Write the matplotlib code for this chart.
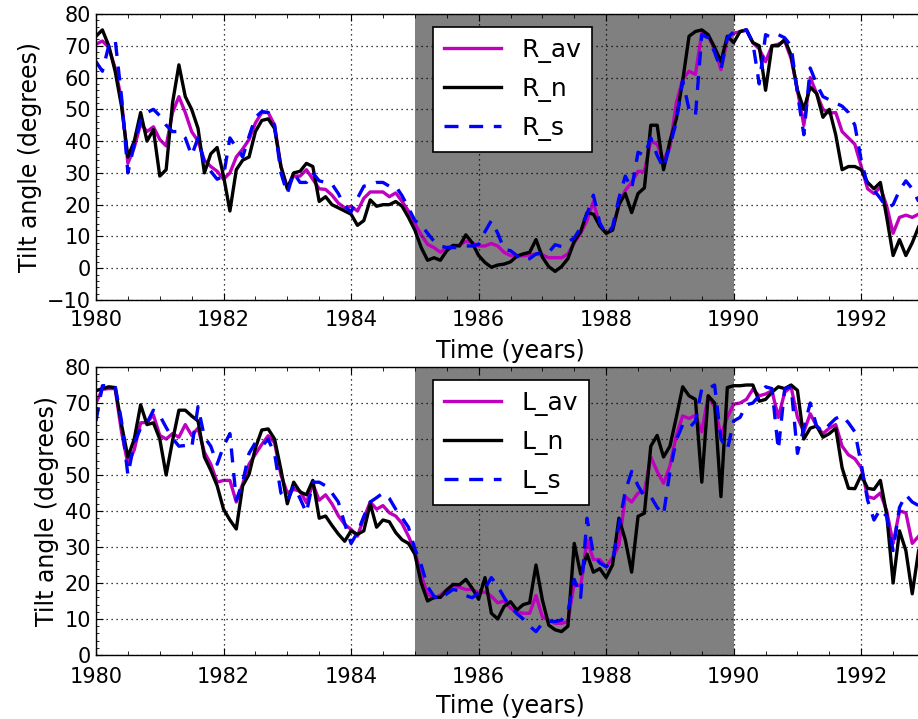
import numpy as np
import matplotlib
matplotlib.use("Agg")
import matplotlib.pyplot as plt
from matplotlib.ticker import MultipleLocator, FixedLocator, FormatStrFormatter

# Sampling grid: one value every 0.1 year from 1980.0
years = np.round(1980 + 0.1 * np.arange(130), 1)

# Radial-model tilt angles (degrees)
R_n = [73, 75, 70, 62, 51, 35, 40, 49, 40, 43.6,
       29, 31, 52, 64, 54, 50, 44, 30, 36, 38,
       29, 18, 31, 34, 35, 43, 46.5, 47, 44, 32,
       25, 30, 30.5, 33, 32, 21, 22.5, 20, 19, 18,
       17, 13.5, 15, 21.5, 19.5, 20, 20, 21, 19.5, 16,
       12, 6.5, 2.5, 3.3, 2.5, 5.5, 7.2, 7, 10.5, 8,
       4, 1.8, 0.3, 1, 1.3, 2, 3.8, 4.5, 5, 9,
       3.5, 0.5, -1, 0.5, 3, 8.5, 11.5, 17.5, 17, 13.3,
       11, 12, 20, 23.5, 17.5, 23.5, 25.3, 45, 45, 31,
       40, 47, 59, 73, 74.5, 75, 73.5, 69.5, 65, 73,
       71, 74.5, 75, 71, 70, 56, 70, 70, 72, 67,
       56, 50, 57, 55, 47.5, 50, 42, 31, 32, 32,
       31, 27, 25, 27, 16, 4, 9, 4, 8, 13]
R_av = [70.5, 71.5, 69.5, 63, 53, 33, 38, 45.5, 43, 44.5,
        40.5, 38.5, 49, 54, 49, 43, 40, 34, 32, 30.5,
        28, 30, 35, 37.5, 40.5, 45.7, 49, 49, 45, 32,
        25.5, 29, 29, 31, 28, 25, 24.8, 23, 20.5, 19,
        19.5, 18, 22, 24, 24, 24, 22.5, 23.7, 21, 18,
        14, 10.5, 7.5, 6.5, 5, 6.5, 7, 7.3, 8.5, 8,
        7, 7, 7.8, 7, 5, 4, 3.9, 3.9, 4.2, 4.4,
        4.2, 3.3, 3.3, 3.3, 4.5, 8, 11, 15, 21, 13.3,
        11, 12, 20, 24.5, 27, 30.5, 30.5, 40, 39, 34,
        38, 52, 59.5, 62, 61, 74, 73, 69, 62.5, 72,
        74, 74.4, 75, 71, 69, 65, 70, 70.5, 71.5, 66,
        56, 45, 60, 55, 50, 48.8, 49, 43, 41, 39,
        32, 25, 23.5, 25.5, 19.5, 11, 16, 16.7, 16, 17]
R_s = [65, 62, 70, 72, 54, 30, 39, 46.5, 49, 50,
       48, 45, 43, 43, 41, 35.5, 41, 33, 30.5, 28,
       29, 41, 38, 35, 41.5, 47.5, 49.3, 49, 45, 30,
       23.5, 30, 27, 27, 30, 27.5, 27, 26.5, 23.5, 19.5,
       17.7, 22, 25.8, 26.3, 27, 27, 25.8, 25.8, 22.8, 19,
       15, 13.6, 11, 8.5, 7, 6.5, 6.5, 6.5, 7, 7,
       7.5, 11.5, 15, 11, 6, 5.5, 4, 2.3, 3, 4.5,
       4.9, 5, 7.4, 6.8, 8.3, 9.5, 12.8, 17, 23, 14.3,
       10.7, 13, 22, 29, 25, 36.5, 35.5, 41, 35.5, 31.5,
       38.5, 46, 59, 50, 48, 73.5, 72.5, 68, 62.5, 72.5,
       74.4, 74.4, 75, 71, 58, 73.5, 72.5, 73.5, 72.5, 70,
       55, 42, 63, 58, 54, 53, 52, 51, 49, 45,
       34, 26, 24.5, 22, 19, 20, 24.5, 27.5, 25, 21]

# Line-of-sight-model tilt angles (degrees)
L_n = [73.4, 74, 74.5, 74.3, 64, 55, 60, 69.5, 64, 64.5,
       60, 50, 59.5, 68, 68, 66.4, 65, 55, 51.3, 47,
       40.5, 37.5, 35, 47, 50.2, 57.5, 62.5, 62.8, 60, 51.5,
       42, 48, 45.3, 44.5, 48.5, 38, 38.6, 36, 33.6, 31.6,
       34.5, 33.5, 34.5, 42, 35.5, 37.5, 37, 34, 32, 31,
       28, 20, 15, 16, 16, 18, 19.6, 19.5, 21, 18.5,
       15.5, 21.5, 11.6, 10, 13.5, 14.8, 12.5, 14, 14.5, 25,
       15.3, 8.3, 7, 6.5, 8, 31, 22.5, 28, 23, 24,
       21.5, 25, 38, 32, 23, 38.5, 39.4, 58, 61, 55,
       58, 66, 74.5, 72, 71, 48, 72, 70, 44, 74.3,
       74.8, 74.8, 75, 75, 70.5, 71, 73, 74.5, 74, 75,
       73.5, 60, 63, 63.6, 60.5, 61.5, 63, 52, 46.3, 46.2,
       50, 46.3, 46, 48.5, 39, 20, 34.5, 29, 17, 29]
L_av = [70, 73.8, 74, 74, 62, 53, 57, 64.5, 64.6, 66.7,
        61, 60, 61.5, 60.5, 64, 61, 63, 56.3, 53, 48,
        48.5, 48.5, 42.5, 47.5, 53, 55.8, 58.5, 60.9, 59, 50,
        45, 46, 45.5, 42.3, 47.5, 43, 44.5, 42, 38.7, 36.3,
        34.9, 33, 38, 42.5, 40.5, 41.5, 39.5, 38.6, 36.5, 33,
        29, 22, 17, 15.8, 16.6, 18.2, 19.3, 18.8, 18.2, 18.2,
        17.3, 17.5, 16.3, 14.5, 15, 13, 12, 11.6, 11.6, 16.5,
        10.6, 9.7, 8.8, 8.8, 9.3, 20, 19, 32, 26.5, 26.5,
        24.5, 27, 30.5, 44, 42.5, 45, 45.5, 55, 51, 47.7,
        52.5, 61, 66.4, 65.7, 66.6, 62, 72, 69, 61, 66,
        69.7, 70, 71, 73.8, 72, 72.5, 73.4, 66, 73, 74.5,
        66, 62, 67, 63.6, 61.5, 63, 64, 58, 55.6, 54.5,
        52, 44, 43.5, 45, 40, 31, 40, 39.5, 31, 33]
L_s = [65, 74.8, 74.8, 74.8, 65, 50, 59, 63, 64.5, 68,
       66.5, 63.2, 60.2, 58, 58.2, 57.5, 69, 60.5, 58, 53,
       58, 61.5, 43, 48, 56, 59, 58, 59.9, 56, 45,
       42.8, 46.9, 43.5, 39.5, 48, 48, 47, 45, 42.5, 36.5,
       31, 34, 38.5, 42.5, 43.7, 45, 43.5, 40.5, 38.1, 35.5,
       29.5, 25, 19, 16.3, 15.3, 17, 18.2, 17.8, 16.5, 15.9,
       17.3, 18.5, 21.5, 19.1, 16, 13.3, 11.5, 10, 8, 6.5,
       8.8, 9.4, 9.3, 9.7, 12, 21, 16, 38, 28, 25.6,
       24.5, 26, 36, 45.5, 51, 47, 44, 44, 41, 39,
       51, 59.7, 64, 63, 65, 74, 74, 75, 60, 57,
       65, 66, 69.5, 70, 72, 74.5, 74, 57, 74, 74.5,
       56, 63, 70, 63.6, 62, 64, 65.7, 66.5, 64.5, 62,
       53, 43, 37.5, 40.5, 38.5, 29, 41, 44.5, 42.5, 41.5]

year_ticks = [1980, 1982, 1984, 1986, 1988, 1990, 1992]
span_start, span_end = 1985, 1990

plt.rcParams.update({
    "font.family": "DejaVu Sans",
    "xtick.direction": "in",
    "ytick.direction": "in",
    "xtick.top": True,
    "ytick.right": True,
    "xtick.major.size": 5,
    "ytick.major.size": 5,
    "xtick.minor.size": 3,
    "ytick.minor.size": 2,
    "axes.linewidth": 1.0,
})

fig = plt.figure(figsize=(9.18, 7.19), dpi=100)
W, H = 918, 719
ax_top = fig.add_axes([96 / W, (H - 300) / H, 829 / W, 286 / H])
ax_bot = fig.add_axes([96 / W, (H - 655) / H, 829 / W, 288 / H])


def draw_panel(ax, av, n, s, names, ylim, yticks, xpad, labelpad):
    ax.axvspan(span_start, span_end, color="#808080", lw=0, zorder=0.5)
    ax.plot(years, av, color="#bf00bf", lw=2.4, label=names[0])
    ax.plot(years, n, color="black", lw=2.4, label=names[1])
    ax.plot(years, s, color="blue", lw=2.4, linestyle=(0, (4.2, 3.2)),
            label=names[2])
    ax.set_xlim(1980, 1993)
    ax.set_ylim(*ylim)
    ax.xaxis.set_major_locator(FixedLocator(year_ticks))
    ax.xaxis.set_major_formatter(FormatStrFormatter("%d"))
    ax.xaxis.set_minor_locator(MultipleLocator(0.5))
    ax.yaxis.set_major_locator(FixedLocator(yticks))
    ax.yaxis.set_minor_locator(MultipleLocator(2))
    ax.tick_params(labelsize=15)
    ax.tick_params(axis="x", which="major", pad=xpad)
    ax.grid(True, which="major", linestyle=(0, (1, 3)), color="black",
            linewidth=0.9)
    ax.set_axisbelow(False)
    ax.set_xlabel("Time (years)", fontsize=17, labelpad=labelpad)
    ax.set_ylabel("Tilt angle (degrees)", fontsize=17)
    leg = ax.legend(loc="upper left", bbox_to_anchor=(0.406, 0.955),
                    borderaxespad=0, fontsize=18, handlelength=2.3,
                    handletextpad=0.8, labelspacing=0.56, borderpad=0.45,
                    fancybox=False, framealpha=1)
    leg.get_frame().set_edgecolor("black")
    leg.get_frame().set_linewidth(1.2)
    for line in leg.get_lines():
        line.set_linewidth(2.4)


draw_panel(ax_top, R_av, R_n, R_s, ["R_av", "R_n", "R_s"],
           (-10, 80), list(range(-10, 81, 10)), xpad=7, labelpad=7)
draw_panel(ax_bot, L_av, L_n, L_s, ["L_av", "L_n", "L_s"],
           (0, 80), list(range(0, 81, 10)), xpad=8.5, labelpad=5.5)

fig.savefig("out.png", dpi=100, facecolor="white")
